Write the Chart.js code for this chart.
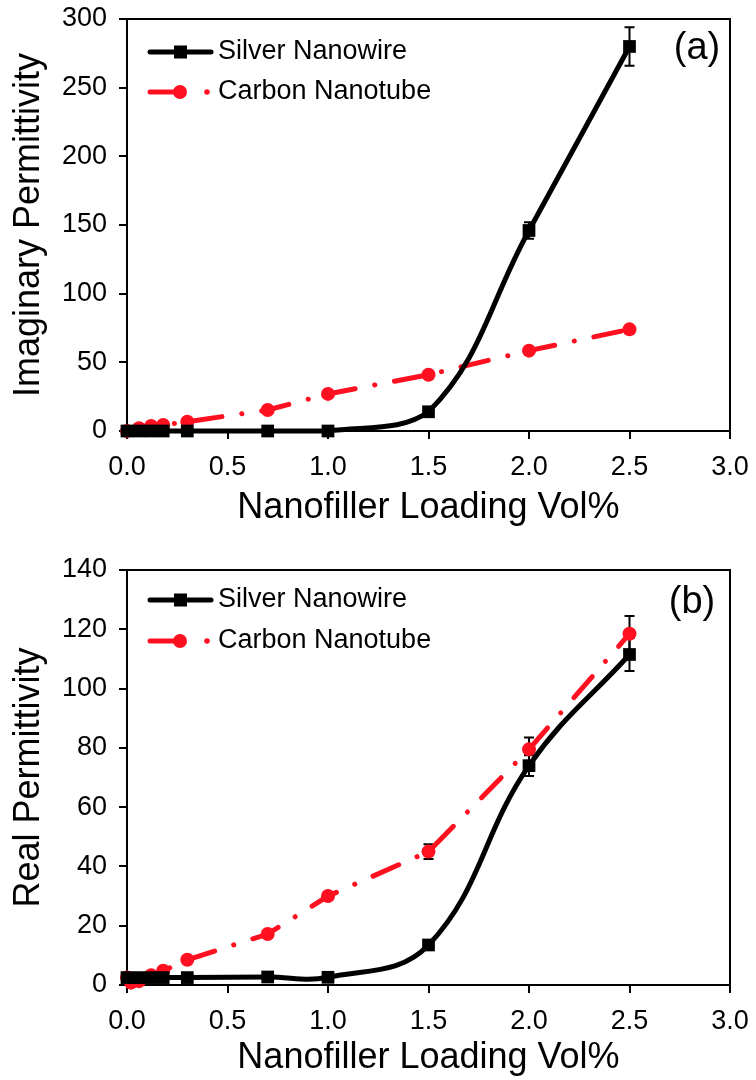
<!DOCTYPE html>
<html>
<head>
<meta charset="utf-8">
<script src="https://cdn.jsdelivr.net/npm/chart.js@4.4.1/dist/chart.umd.min.js"></script>
<style>
  html, body { margin: 0; padding: 0; background: #fff; }
  canvas { display: block; }
</style>
</head>
<body>
<canvas id="chartA" width="756" height="540"></canvas>
<canvas id="chartB" width="756" height="540"></canvas>
<script>
// (a) imaginary permittivity vs loading
const loadingA = [0, 0.06, 0.12, 0.18, 0.3, 0.7, 1.0, 1.5, 2.0, 2.5];
const silverImag = [0, 0, 0, 0, 0, 0, 0, 14, 146, 280];
const silverImagErr = [0, 0, 0, 0, 0, 0, 0, 1, 6, 14];
const carbonImag = [0, 2, 3.6, 4.4, 6.8, 15.3, 27, 41, 58.5, 74];
const carbonImagErr = [0, 0, 0, 0, 0, 0, 0.5, 1, 2, 2.5];

// (b) real permittivity vs loading
const silverLoadingB = [0, 0.06, 0.12, 0.18, 0.3, 0.7, 1.0, 1.5, 2.0, 2.5];
const silverReal = [2.5, 2.5, 2.5, 2.5, 2.5, 2.7, 2.6, 13.5, 74, 111.5];
const silverRealErr = [0, 0, 0, 0, 0, 0.5, 0.5, 1, 3.5, 5.6];
const carbonLoadingB = [0, 0.02, 0.06, 0.12, 0.18, 0.3, 0.7, 1.0, 1.5, 2.0, 2.5];
const carbonReal = [2.5, 0.8, 1.3, 3.3, 4.8, 8.5, 17.2, 30, 45, 79.5, 118.5];
const carbonRealErr = [0, 0, 0, 0, 0, 0, 0.5, 1, 2.5, 4, 6];

const xTicks = [0, 0.5, 1.0, 1.5, 2.0, 2.5, 3.0];
const seriesNames = ['Silver Nanowire', 'Carbon Nanotube'];

const FONT = "'Liberation Sans', Arial, Helvetica, sans-serif";
const RED = '#ff1020';
const DASH = [28, 20, 0.1, 20];

function pts(xs, ys) {
  return xs.map((x, i) => ({ x: x, y: ys[i] }));
}

const extras = {
  id: 'extras',
  beforeDatasetsDraw(chart, args, opts) {
    const ctx = chart.ctx;
    const xs = chart.scales.x, ys = chart.scales.y;
    ctx.save();
    ctx.strokeStyle = '#000';
    ctx.lineWidth = 2;
    chart.data.datasets.forEach((ds, i) => {
      const errs = opts.errors[i];
      ds.data.forEach((p, j) => {
        const e = errs[j];
        if (!e) return;
        const px = xs.getPixelForValue(p.x);
        const top = ys.getPixelForValue(p.y + e);
        const bot = ys.getPixelForValue(p.y - e);
        ctx.beginPath();
        ctx.moveTo(px, top); ctx.lineTo(px, bot);
        ctx.moveTo(px - 5, top); ctx.lineTo(px + 5, top);
        ctx.moveTo(px - 5, bot); ctx.lineTo(px + 5, bot);
        ctx.stroke();
      });
    });
    ctx.restore();
  },
  afterDraw(chart, args, opts) {
    const ctx = chart.ctx;
    const a = chart.chartArea;
    ctx.save();
    // frame top and right
    ctx.strokeStyle = '#000';
    ctx.lineWidth = 2;
    ctx.beginPath();
    ctx.moveTo(a.left, a.top); ctx.lineTo(a.right, a.top); ctx.lineTo(a.right, a.bottom);
    ctx.stroke();

    // legend
    const ly = opts.legendY;
    ctx.lineCap = 'round';
    ctx.lineWidth = 5;
    ctx.strokeStyle = '#000';
    ctx.beginPath(); ctx.moveTo(150, ly[0]); ctx.lineTo(211, ly[0]); ctx.stroke();
    ctx.fillStyle = '#000';
    ctx.fillRect(174, ly[0] - 6.5, 13, 13);
    ctx.strokeStyle = RED;
    ctx.fillStyle = RED;
    ctx.beginPath(); ctx.moveTo(150, ly[1]); ctx.lineTo(176, ly[1]); ctx.stroke();
    ctx.beginPath(); ctx.arc(180, ly[1], 7, 0, Math.PI * 2); ctx.fill();
    ctx.beginPath(); ctx.arc(207, ly[1], 2.8, 0, Math.PI * 2); ctx.fill();

    ctx.fillStyle = '#000';
    ctx.font = '27px ' + FONT;
    ctx.textAlign = 'left';
    ctx.textBaseline = 'middle';
    ctx.fillText(seriesNames[0], 218, ly[0]);
    ctx.fillText(seriesNames[1], 218, ly[1]);

    // panel label
    ctx.font = '38px ' + FONT;
    ctx.textAlign = 'center';
    ctx.fillText(opts.label, opts.labelX, opts.labelY);
    ctx.restore();
  }
};

function makeChart(id, cfg) {
  return new Chart(document.getElementById(id), {
    type: 'line',
    data: {
      datasets: [
        {
          label: seriesNames[0],
          data: cfg.silver,
          borderColor: '#000',
          backgroundColor: '#000',
          borderWidth: 5,
          tension: 0.4,
          pointStyle: 'rect',
          pointRadius: 9,
          pointBorderWidth: 0,
          clip: false
        },
        {
          label: seriesNames[1],
          data: cfg.carbon,
          borderColor: RED,
          backgroundColor: RED,
          borderWidth: 5,
          borderDash: DASH,
          borderCapStyle: 'round',
          tension: 0,
          pointStyle: 'circle',
          pointRadius: 7,
          pointBorderWidth: 0,
          clip: false
        }
      ]
    },
    options: {
      responsive: false,
      animation: false,
      layout: { padding: { top: cfg.padTop, right: 26, left: 0, bottom: 0 } },
      plugins: {
        legend: { display: false },
        tooltip: { enabled: false },
        extras: {
          errors: cfg.errors,
          legendY: cfg.legendY,
          label: cfg.label,
          labelX: cfg.labelX,
          labelY: cfg.labelY
        }
      },
      scales: {
        x: {
          type: 'linear',
          min: 0,
          max: 3,
          afterBuildTicks: (s) => { s.ticks = xTicks.map(v => ({ value: v })); },
          afterFit: (s) => {
            s.height = cfg.xHeight;
            s.paddingLeft = 0; s.paddingRight = 0;
          },
          border: { color: '#000', width: 2 },
          grid: { drawOnChartArea: false, drawTicks: true, tickLength: 8, color: '#000', lineWidth: 2 },
          ticks: {
            color: '#000',
            padding: 12,
            maxRotation: 0,
            autoSkip: false,
            font: { family: FONT, size: 27 },
            callback: (v) => Number(v).toFixed(1)
          },
          title: {
            display: true,
            text: 'Nanofiller Loading Vol%',
            color: '#000',
            font: { family: FONT, size: 36 },
            padding: { top: 0, bottom: cfg.xTitlePad }
          }
        },
        y: {
          min: 0,
          max: cfg.yMax,
          afterFit: (s) => {
            s.width = 127;
            s.paddingTop = 0; s.paddingBottom = 0;
          },
          border: { color: '#000', width: 2 },
          grid: { drawOnChartArea: false, drawTicks: true, tickLength: 8, color: '#000', lineWidth: 2 },
          ticks: {
            color: '#000',
            padding: 12,
            stepSize: cfg.yStep,
            font: { family: FONT, size: 27 }
          },
          title: {
            display: true,
            text: cfg.yTitle,
            color: '#000',
            font: { family: FONT, size: 36 },
            padding: { top: 7, bottom: 0 }
          }
        }
      }
    },
    plugins: [extras]
  });
}

makeChart('chartA', {
  silver: pts(loadingA, silverImag),
  carbon: pts(loadingA, carbonImag),
  errors: [silverImagErr, carbonImagErr],
  yMax: 300,
  yStep: 50,
  yTitle: 'Imaginary Permittivity',
  padTop: 19,
  xHeight: 109,
  xTitlePad: 10,
  legendY: [52, 92],
  label: '(a)',
  labelX: 697,
  labelY: 49
});

makeChart('chartB', {
  silver: pts(silverLoadingB, silverReal),
  carbon: pts(carbonLoadingB, carbonReal),
  errors: [silverRealErr, carbonRealErr],
  yMax: 140,
  yStep: 20,
  yTitle: 'Real Permittivity',
  padTop: 30,
  xHeight: 95,
  xTitlePad: 0,
  legendY: [60, 101],
  label: '(b)',
  labelX: 692,
  labelY: 63
});
</script>
</body>
</html>
